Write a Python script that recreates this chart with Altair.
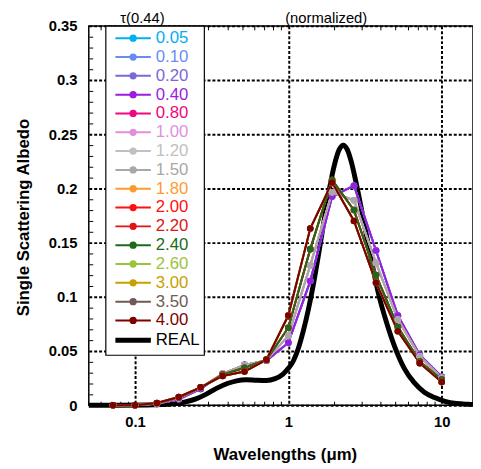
import altair as alt
import pandas as pd

# ---------------- data ----------------
wavelengths = [0.072, 0.1, 0.139, 0.193, 0.268, 0.373, 0.518, 0.72, 1.0,
               1.39, 1.93, 2.68, 3.73, 5.18, 7.2, 10.0]

tau_labels = ["0.05", "0.10", "0.20", "0.40", "0.80", "1.00", "1.20", "1.50",
              "1.80", "2.00", "2.20", "2.40", "2.60", "3.00", "3.50", "4.00"]
tau_colors = ["#00b0f0", "#6a8cf0", "#7b68d8", "#9a1ee0", "#f0067e", "#e090dc",
              "#c0c0c0", "#a8a8a8", "#ff9a30", "#ff1010", "#e01515", "#1a6b1a",
              "#9cc43a", "#c8a000", "#705a55", "#800000"]

alb_005 = [0.0, 0.0, 0.0012, 0.0055, 0.0150, 0.0290, 0.0372, 0.0410, 0.0576, 0.1145, 0.1925, 0.2025, 0.1427, 0.0827, 0.0464, 0.0262]
alb_010 = [0.0, 0.0, 0.0012, 0.0055, 0.0150, 0.0290, 0.0372, 0.0410, 0.0576, 0.1145, 0.1925, 0.2025, 0.1427, 0.0827, 0.0464, 0.0262]
alb_020 = [0.0, 0.0, 0.0012, 0.0055, 0.0150, 0.0290, 0.0372, 0.0410, 0.0576, 0.1145, 0.1925, 0.2025, 0.1427, 0.0827, 0.0464, 0.0262]
alb_040 = [0.0, 0.0, 0.0012, 0.0055, 0.0150, 0.0290, 0.0372, 0.0410, 0.0576, 0.1145, 0.1925, 0.2025, 0.1427, 0.0827, 0.0464, 0.0262]
alb_080 = [0.0, 0.0, 0.0015, 0.0065, 0.0160, 0.0292, 0.0368, 0.0415, 0.0640, 0.1290, 0.1965, 0.1890, 0.1313, 0.0790, 0.0450, 0.0252]
alb_100 = [0.0, 0.0, 0.0015, 0.0065, 0.0160, 0.0292, 0.0368, 0.0415, 0.0640, 0.1290, 0.1965, 0.1890, 0.1313, 0.0790, 0.0450, 0.0252]
alb_120 = [0.0, 0.0, 0.0015, 0.0065, 0.0160, 0.0292, 0.0368, 0.0415, 0.0640, 0.1290, 0.1965, 0.1890, 0.1313, 0.0790, 0.0450, 0.0252]
alb_150 = [0.0, 0.0, 0.0015, 0.0065, 0.0160, 0.0292, 0.0368, 0.0415, 0.0640, 0.1290, 0.1965, 0.1890, 0.1313, 0.0790, 0.0450, 0.0252]
alb_180 = [0.0, 0.0, 0.0018, 0.0070, 0.0163, 0.0282, 0.0345, 0.0418, 0.0715, 0.1440, 0.2078, 0.1800, 0.1200, 0.0722, 0.0403, 0.0236]
alb_200 = [0.0, 0.0, 0.0018, 0.0070, 0.0163, 0.0282, 0.0345, 0.0418, 0.0715, 0.1440, 0.2078, 0.1800, 0.1200, 0.0722, 0.0403, 0.0236]
alb_220 = [0.0, 0.0, 0.0018, 0.0070, 0.0163, 0.0282, 0.0345, 0.0418, 0.0715, 0.1440, 0.2078, 0.1800, 0.1200, 0.0722, 0.0403, 0.0236]
alb_240 = [0.0, 0.0, 0.0018, 0.0070, 0.0163, 0.0282, 0.0345, 0.0418, 0.0715, 0.1440, 0.2078, 0.1800, 0.1200, 0.0722, 0.0403, 0.0236]
alb_260 = [0.0, 0.0, 0.0020, 0.0076, 0.0165, 0.0270, 0.0310, 0.0420, 0.0827, 0.1630, 0.2055, 0.1700, 0.1130, 0.0682, 0.0388, 0.0213]
alb_300 = [0.0, 0.0, 0.0020, 0.0076, 0.0165, 0.0270, 0.0310, 0.0420, 0.0827, 0.1630, 0.2055, 0.1700, 0.1130, 0.0682, 0.0388, 0.0213]
alb_350 = [0.0, 0.0, 0.0020, 0.0076, 0.0165, 0.0270, 0.0310, 0.0420, 0.0827, 0.1630, 0.2055, 0.1700, 0.1130, 0.0682, 0.0388, 0.0213]
alb_400 = [0.0, 0.0, 0.0020, 0.0076, 0.0165, 0.0270, 0.0310, 0.0420, 0.0827, 0.1630, 0.2055, 0.1700, 0.1130, 0.0682, 0.0388, 0.0213]

tau_series = [alb_005, alb_010, alb_020, alb_040, alb_080, alb_100, alb_120, alb_150,
              alb_180, alb_200, alb_220, alb_240, alb_260, alb_300, alb_350, alb_400]

real_label = "REAL"
real_color = "#000000"
real_wl = [0.05, 0.08, 0.12, 0.15, 0.18, 0.21, 0.25, 0.29, 0.34, 0.40, 0.46, 0.53,
           0.62, 0.72, 0.82, 0.92, 1.0, 1.08, 1.16, 1.25, 1.35, 1.45, 1.57, 1.70,
           1.85, 2.0, 2.15, 2.28, 2.42, 2.58, 2.75, 2.95, 3.2, 3.5, 3.9, 4.4, 5.0,
           5.7, 6.6, 7.7, 9.0, 10.5, 12.5, 15.0, 16.0]
real_alb = [0.0, 0.0, 0.0002, 0.0006, 0.0012, 0.0028, 0.0058, 0.0100, 0.0155, 0.0200,
            0.0225, 0.0234, 0.0230, 0.0228, 0.0245, 0.0285, 0.0340, 0.0410, 0.0520,
            0.0680, 0.0880, 0.1100, 0.1380, 0.1680, 0.1990, 0.2220, 0.2360, 0.2400,
            0.2360, 0.2240, 0.2070, 0.1860, 0.1600, 0.1320, 0.1010, 0.0750, 0.0520,
            0.0340, 0.0210, 0.0120, 0.0070, 0.0035, 0.0015, 0.0008, 0.0006]

x_major_ticks = [0.1, 1, 10]
x_major_labels = ["0.1", "1", "10"]
x_minor_ticks = [0.06, 0.07, 0.08, 0.09, 0.2, 0.3, 0.4, 0.5, 0.6, 0.7, 0.8, 0.9,
                 2, 3, 4, 5, 6, 7, 8, 9]
y_major_ticks = [0, 0.05, 0.1, 0.15, 0.2, 0.25, 0.3, 0.35]
y_major_labels = ["0", "0.05", "0.1", "0.15", "0.2", "0.25", "0.3", "0.35"]
y_minor_ticks = [0.01, 0.02, 0.03, 0.04, 0.06, 0.07, 0.08, 0.09, 0.11, 0.12, 0.13,
                 0.14, 0.16, 0.17, 0.18, 0.19, 0.21, 0.22, 0.23, 0.24, 0.26, 0.27,
                 0.28, 0.29, 0.31, 0.32, 0.33, 0.34]

title_text = "(normalized)"
legend_title = "τ(0.44)"
x_title = "Wavelengths (μm)"
y_title = "Single Scattering Albedo"

# ---------------- tables ----------------
rows = []
for lab, vals in zip(tau_labels, tau_series):
    for w, v in zip(wavelengths, vals):
        rows.append({"series": lab, "wl": w, "alb": v})
df = pd.DataFrame(rows)
df_real = pd.DataFrame({"series": real_label, "wl": real_wl, "alb": real_alb})

FONT = "Liberation Sans"
domain_all = tau_labels + [real_label]
range_all = tau_colors + [real_color]

xscale = alt.Scale(type="log", domain=[0.05, 16], nice=False)
yscale = alt.Scale(domain=[0, 0.35], nice=False, zero=False)

def jsarr(a):
    return "[" + ",".join(repr(v) for v in a) + "]"

def jsstr(a):
    return "[" + ",".join("'" + s + "'" for s in a) + "]"

x_is_major = f"indexof({jsarr(x_major_ticks)}, datum.value) >= 0"
y_is_major = f"indexof({jsarr(y_major_ticks)}, datum.value) >= 0"

x_axis = alt.Axis(
    values=sorted(x_major_ticks + x_minor_ticks),
    labelExpr=f"{x_is_major} ? {jsstr(x_major_labels)}[indexof({jsarr(x_major_ticks)}, datum.value)] : ''",
    offset=-4, domain=False, tickSize=4, tickColor="black", tickWidth=1,
    tickOpacity={"condition": {"test": x_is_major, "value": 0}, "value": 1},
    grid=True, gridColor="black", gridWidth=2, gridDash=[3, 2],
    gridOpacity={"condition": {"test": x_is_major, "value": 1}, "value": 0},
    labelFont=FONT, labelFontSize=15, labelFontWeight="bold", labelColor="black",
    labelPadding=10, labelFlush=False, labelOverlap=False,
    title=x_title, titleFont=FONT, titleFontSize=17, titleFontWeight="bold",
    titleColor="black", titleX=199, titleY=54.5, titleBaseline="middle",
)
y_axis = alt.Axis(
    values=sorted(y_major_ticks + y_minor_ticks),
    labelExpr=f"{y_is_major} ? {jsstr(y_major_labels)}[indexof({jsarr(y_major_ticks)}, datum.value)] : ''",
    offset=-4, domain=False, tickSize=4, tickColor="black", tickWidth=1,
    tickOpacity={"condition": {"test": y_is_major, "value": 0}, "value": 1},
    grid=True, gridColor="black", gridWidth=2, gridDash=[3, 2],
    gridOpacity={"condition": {"test": y_is_major, "value": 1}, "value": 0},
    labelFont=FONT, labelFontSize=15, labelFontWeight="bold", labelColor="black",
    labelPadding=12, labelFlush=False, labelOverlap=False,
    title=y_title, titleFont=FONT, titleFontSize=17, titleFontWeight="bold",
    titleColor="black", titleX=-70, titleY=194, titleBaseline="middle",
    titleAlign="center", titleAngle=270,
)
top_axis = alt.Axis(
    orient="top", values=x_minor_ticks, labels=False, offset=-4, domain=False,
    tickSize=4, tickColor="black", tickWidth=1, grid=False, title=None,
)

line_p = "M-3.6,0H3.6"
disk_p = ("M0.54,0A0.54,0.54 0 1,1 -0.54,0A0.54,0.54 0 1,1 0.54,0"
          "M0.34,0A0.34,0.34 0 1,1 -0.34,0A0.34,0.34 0 1,1 0.34,0"
          "M0.14,0A0.14,0.14 0 1,1 -0.14,0A0.14,0.14 0 1,1 0.14,0")

legend = alt.Legend(
    orient="none", legendX=17, legendY=0, title=None, direction="vertical",
    padding=4, strokeColor="black", fillColor="white",
    labelFont=FONT, labelFontSize=17, labelLimit=0,
    labelColor=alt.ExprRef(expr="scale('color', datum.value)"),
    symbolType=alt.ExprRef(expr=f"datum.value === '{real_label}' ? '{line_p}' : '{line_p}{disk_p}'"),
    symbolStrokeWidth=alt.ExprRef(expr=f"datum.value === '{real_label}' ? 5 : 2"),
    symbolSize=100, symbolOffset=15.5, labelOffset=14.5, rowPadding=1.1,
)
color = alt.Color("series:N", scale=alt.Scale(domain=domain_all, range=range_all),
                  sort=domain_all, legend=legend)

real_line = alt.Chart(df_real).mark_line(strokeWidth=5, interpolate="monotone").encode(
    x=alt.X("wl:Q", scale=xscale, axis=x_axis),
    y=alt.Y("alb:Q", scale=yscale, axis=y_axis),
    color=color,
)
tau_lines = alt.Chart(df).mark_line(strokeWidth=2).encode(
    x=alt.X("wl:Q", scale=xscale, axis=x_axis),
    y=alt.Y("alb:Q", scale=yscale, axis=y_axis),
    color=color, detail="series:N",
)
tau_points = alt.Chart(df).mark_point(filled=True, size=45, opacity=1).encode(
    x=alt.X("wl:Q", scale=xscale, axis=x_axis),
    y=alt.Y("alb:Q", scale=yscale, axis=y_axis),
    color=color,
)
main = alt.layer(real_line, tau_lines, tau_points)

top_ticks = alt.Chart(pd.DataFrame({"t": x_minor_ticks})).mark_point(opacity=0).encode(
    x=alt.X("t:Q", scale=xscale, axis=top_axis),
)

title_mark = alt.Chart(pd.DataFrame({"t": [title_text]})).mark_text(
    font=FONT, fontSize=15, color="black", align="center", baseline="alphabetic"
).encode(text="t:N", x=alt.value(241), y=alt.value(-3.3))

legend_title_mark = alt.Chart(pd.DataFrame({"t": [legend_title]})).mark_text(
    font=FONT, fontSize=15, color="black", align="center", baseline="alphabetic"
).encode(text="t:N", x=alt.value(54.5), y=alt.value(-3.3))

chart = alt.layer(main, top_ticks, title_mark, legend_title_mark).resolve_axis(
    x="independent"
).properties(
    width=390, height=385,
    autosize=alt.AutoSizeParams(type="none"),
    padding={"left": 82, "top": 14.7, "right": 0, "bottom": 61},
).configure_view(stroke="black", strokeWidth=1.5).configure_legend(strokeWidth=1.2)

chart.save("out.html", embed_options={"renderer": "svg", "actions": False})
